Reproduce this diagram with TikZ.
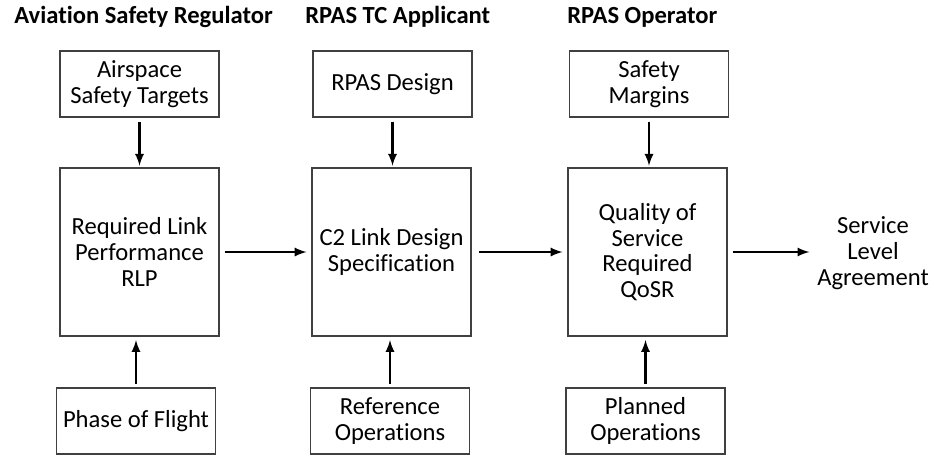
\documentclass[tikz,border=0pt]{standalone}
\usepackage{fontspec}
\setmainfont{Carlito}[Ligatures=NoCommon]
\usepackage{tikz}
\usetikzlibrary{arrows}
\tikzstyle{box}=[draw=black!75, line width=0.6pt, fill=white, align=center, inner sep=0pt, minimum width=3.18cm, minimum height=1.32cm, font=\fontsize{14}{14.7}\selectfont]
\tikzstyle{mainbox}=[box, minimum height=3.36cm]
\tikzstyle{party}=[anchor=west, inner sep=0pt, font=\fontsize{14}{16}\selectfont\bfseries]
\tikzstyle{flow}=[-latex, line width=1.3pt]

\begin{document}
\begin{tikzpicture}[x=0.02cm, y=-0.02cm]
		\useasboundingbox (0,0) rectangle (933,454);
		\clip (0,0) rectangle (933,454);
		% parties
		\node[party] (regulator) at (14,17) {Aviation Safety Regulator};
		\node[party] (applicant) at (305,17) {RPAS TC Applicant};
		\node[party] (operator) at (567,17) {RPAS Operator};
		% regulator column
		\node[box] (targets) at (139.5,84) {Airspace\\Safety Targets};
		\node[mainbox] (rlp) at (139.5,252) {Required Link\\Performance\\RLP};
		\node[box] (phase) at (136,421) {Phase of Flight};
		% applicant column
		\node[box] (design) at (392.5,84) {RPAS Design};
		\node[mainbox] (c2) at (391.5,252) {C2 Link Design\\Specification};
		\node[box] (refops) at (390,421) {Reference\\Operations};
		% operator column
		\node[box] (margins) at (649,84) {Safety\\Margins};
		\node[mainbox] (qosr) at (647.5,252) {Quality of\\Service\\Required\\QoSR};
		\node[box] (plannedops) at (645.5,421) {Planned\\Operations};
		\node[align=center, font=\fontsize{14}{14.7}\selectfont] (sla) at (873,253) {Service\\Level\\Agreement};
		% inputs from above
		\draw[flow, shorten <=2.5pt, shorten >=1pt] (targets.south) -- (targets.south |- rlp.north);
		\draw[flow, shorten <=2.5pt, shorten >=1pt] (design.south) -- (design.south |- c2.north);
		\draw[flow, shorten <=2.5pt, shorten >=1pt] (margins.south) -- (margins.south |- qosr.north);
		% inputs from below
		\draw[flow, shorten <=2pt, shorten >=2pt] (phase.north) -- (phase.north |- rlp.south);
		\draw[flow, shorten <=2pt, shorten >=2pt] (refops.north) -- (refops.north |- c2.south);
		\draw[flow, shorten <=2pt, shorten >=2pt] (plannedops.north) -- (plannedops.north |- qosr.south);
		% outputs
		\draw[flow, shorten <=1mm, shorten >=1mm] (rlp) -- (c2);
		\draw[flow, shorten <=1.5mm, shorten >=1mm] (c2) -- (qosr);
		\draw[flow, shorten <=1mm, shorten >=1pt] (qosr.east) -- (qosr.east -| sla.west);
	\end{tikzpicture}
\end{document}
